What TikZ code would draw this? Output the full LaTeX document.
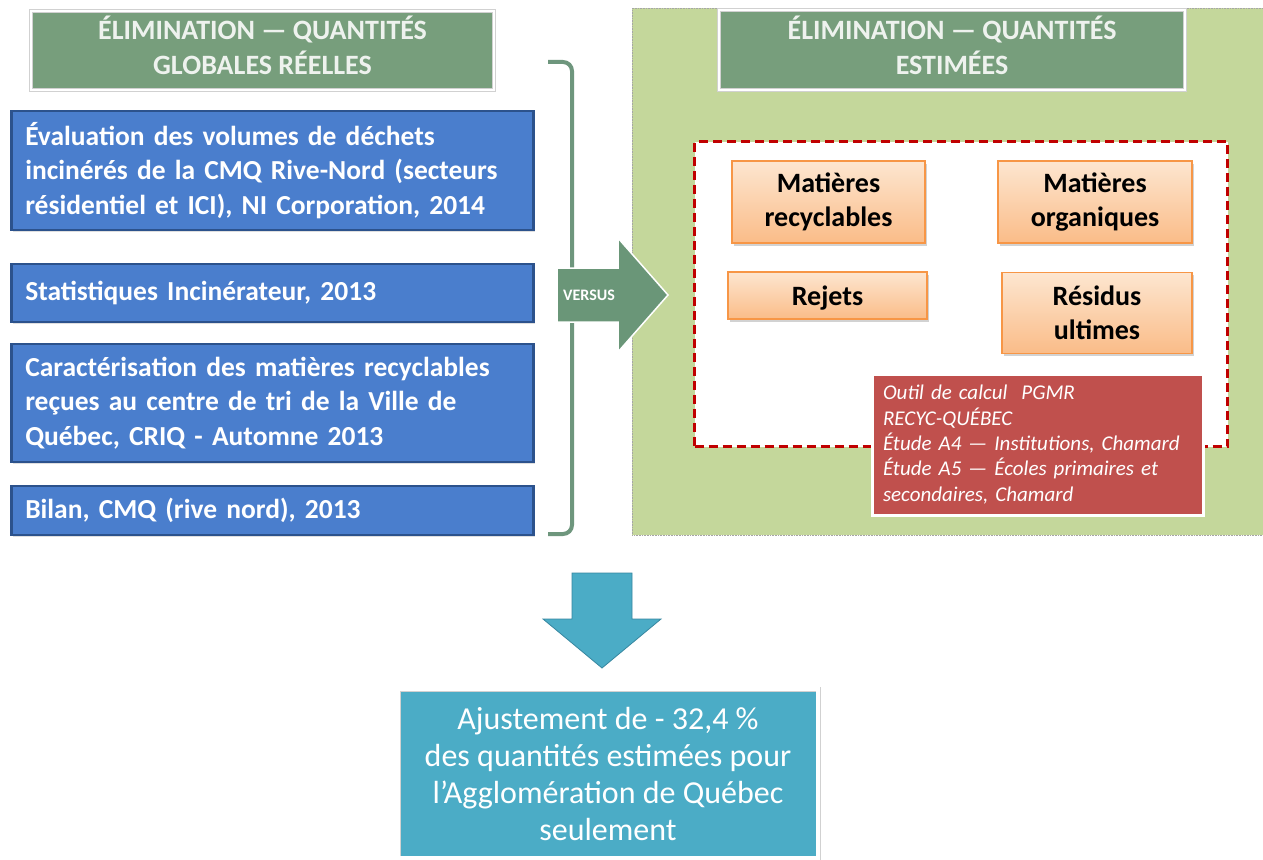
\documentclass[tikz,border=0pt]{standalone}
\usepackage{fontspec}
\setmainfont{Carlito}
\usetikzlibrary{shadows}
\definecolor{hgreen}{RGB}{119,158,124}
\definecolor{htext}{RGB}{238,242,238}
\definecolor{bluefill}{RGB}{74,126,205}
\definecolor{blueline}{RGB}{44,82,140}
\definecolor{panelgreen}{RGB}{196,215,155}
\definecolor{dashred}{RGB}{192,0,0}
\definecolor{orangetop}{RGB}{253,230,208}
\definecolor{orangebot}{RGB}{250,188,136}
\definecolor{orangeline}{RGB}{247,150,70}
\definecolor{redfill}{RGB}{192,80,77}
\definecolor{tealfill}{RGB}{75,172,198}
\definecolor{tealline}{RGB}{55,135,160}
\definecolor{bracketcol}{RGB}{110,150,125}
\definecolor{versuscol}{RGB}{106,150,120}
\tikzset{
  hdr/.style={fill=hgreen, draw=black!18, double=white, double distance=2.5pt, line width=0.5pt,
    text=htext, font=\bfseries\fontsize{28}{34}\selectfont, align=center, inner sep=0pt},
  bluebox/.style={fill=bluefill, draw=blueline, line width=2.5pt, text=white,
    font=\bfseries\fontsize{27.5}{34.5}\selectfont, align=left, text width=494pt,
    inner xsep=14pt, inner ysep=0pt, anchor=west,
    drop shadow={opacity=0.25, shadow xshift=1.5pt, shadow yshift=-1.5pt}},
  orangebox/.style={top color=orangetop, bottom color=orangebot, draw=orangeline, line width=1.2pt,
    text=black, font=\bfseries\fontsize{28}{34}\selectfont, align=center, inner sep=0pt,
    drop shadow={opacity=0.35, shadow xshift=2pt, shadow yshift=-2.5pt}},
  redbox/.style={fill=redfill, draw=white, line width=3pt, text=white,
    font=\itshape\fontsize{21}{25.3}\selectfont, align=left, text width=309pt, inner xsep=11pt, inner ysep=0pt},
  tealbox/.style={fill=tealfill, draw=black!18, double=white, double distance=4pt, line width=0.5pt,
    text=white, font=\fontsize{32}{37}\selectfont, align=center, inner sep=0pt},
  bracketline/.style={draw=bracketcol, line width=4pt, rounded corners=9pt},
  arrowshape/.style={fill=versuscol, draw=white, line width=1.5pt},
}
\begin{document}
\begin{tikzpicture}[x=1pt,y=-1pt]
\useasboundingbox (0,0) rectangle (1263,859);
\fill[white] (0,0) rectangle (1263,859);

% left header
\node[hdr, minimum width=463pt, minimum height=79pt] (hl) at (262.5,50.5) {\raisebox{-3pt}{\begin{tabular}{@{}c@{}}ÉLIMINATION — QUANTITÉS\\[1pt]GLOBALES RÉELLES\end{tabular}}};

% blue boxes
\node[bluebox, minimum height=119pt] (b1) at (10,170.5) {Évaluation des volumes de déchets\\incinérés de la CMQ Rive-Nord (secteurs\\résidentiel et ICI), NI Corporation, 2014};
\node[bluebox, minimum height=58pt] (b2) at (10,293) {Statistiques Incinérateur, 2013};
\node[bluebox, minimum height=118pt] (b3) at (10,403) {Caractérisation des matières recyclables\\reçues au centre de tri de la Ville de\\Québec, CRIQ - Automne 2013};
\node[bluebox, minimum height=49pt] (b4) at (10,510.5) {Bilan, CMQ (rive nord), 2013};

% bracket
\coordinate (brtop) at (548,62);
\coordinate (brbot) at (548,534);
\draw[bracketline] (brtop) -- (572,62) -- (572,534) -- (brbot);

% green panel
\node[fill=panelgreen, draw=black!35, densely dotted, line width=0.6pt, minimum width=634pt, minimum height=527pt, inner sep=0pt, anchor=north west] (panel) at (632,8) {};

% right header
\node[hdr, minimum width=466pt, minimum height=80pt] (hr) at (952,50) {\raisebox{-3pt}{\begin{tabular}{@{}c@{}}ÉLIMINATION — QUANTITÉS\\[1pt]ESTIMÉES\end{tabular}}};

% dashed frame
\node[fill=white, draw=dashred, line width=3pt, dash pattern=on 9pt off 5pt, minimum width=533pt, minimum height=305pt, inner sep=0pt, anchor=north west] (frame) at (693,140) {};

% orange boxes
\node[orangebox, minimum width=193pt, minimum height=82pt] (mr) at (828.5,202) {Matières\\recyclables};
\node[orangebox, minimum width=194pt, minimum height=82pt] (mo) at (1095,202) {Matières\\organiques};
\node[orangebox, minimum width=199pt, minimum height=47pt, text depth=0pt] (rj) at (827.5,295.5) {Rejets};
\node[orangebox, minimum width=190pt, minimum height=81pt] (ru) at (1097,313) {Résidus\\ultimes};

% red box
\node[redbox, minimum height=141pt] (src) at (1037.5,444.5) {Outil de calcul\ \ PGMR\\RECYC-QUÉBEC\\Étude A4 — Institutions, Chamard\\Étude A5 — Écoles primaires et\\secondaires, Chamard};

% versus arrow
\path[arrowshape] (557,268) -- (618,268) -- (618,238) -- (668,295) -- (618,352) -- (618,322) -- (557,322) -- cycle;
\node[text=white, font=\bfseries\fontsize{16}{16}\selectfont, inner sep=0pt] (vs) at (589,295) {VERSUS};

% down arrow
\path[fill=tealfill, draw=tealline, line width=0.8pt] (572,573) -- (632,573) -- (632,619) -- (661,619) -- (602,668) -- (543,619) -- (572,619) -- cycle;

% bottom box
\node[tealbox, minimum width=420pt, minimum height=169pt] (res) at (608,773.5) {Ajustement de - 32,4 \%\\des quantités estimées pour\\l’Agglomération de Québec\\seulement};
\end{tikzpicture}
\end{document}
